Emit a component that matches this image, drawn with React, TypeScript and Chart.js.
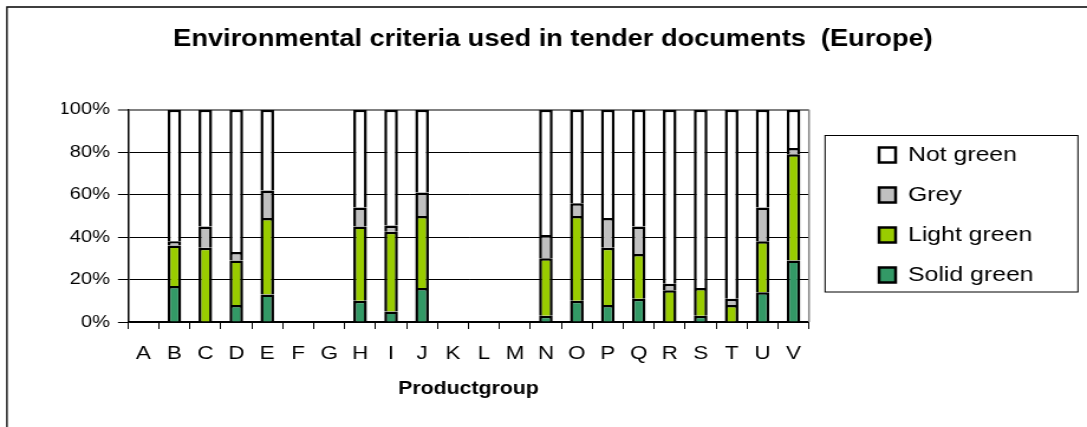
import { useEffect, useRef } from 'react';
import { Chart, registerables } from 'chart.js';

Chart.register(...registerables);

const categories = ['A', 'B', 'C', 'D', 'E', 'F', 'G', 'H', 'I', 'J', 'K', 'L', 'M', 'N', 'O', 'P', 'Q', 'R', 'S', 'T', 'U', 'V'];
const solidGreen = [null, 17, 0, 8, 13, null, null, 10, 5, 16, null, null, null, 3, 10, 8, 11, 0, 3, 0, 14, 29];
const lightGreen = [null, 19, 35, 21, 36, null, null, 35, 37.5, 34, null, null, null, 27, 40, 27, 21, 15, 13, 8, 24, 50];
const grey = [null, 2, 10, 4, 13, null, null, 9, 3, 11, null, null, null, 11, 6, 14, 13, 3, 0, 3, 16, 3];
const notGreen = [null, 62, 55, 67, 38, null, null, 46, 54.5, 39, null, null, null, 59, 44, 51, 55, 82, 84, 89, 46, 18];
const yTickValues = [0, 20, 40, 60, 80, 100];
const yTickLabels = ['0%', '20%', '40%', '60%', '80%', '100%'];

const TITLE = 'Environmental criteria used in tender documents  (Europe)';
const X_TITLE = 'Productgroup';
const FONT = "'Liberation Sans', Arial, Helvetica, sans-serif";

// internal canvas width (stretched horizontally by CSS to 1087)
const W = 920;
const H = 427;

const layoutPlugin = {
  id: 'layoutTweaks',
  afterLayout(chart: any) {
    const lg = chart.legend;
    if (lg) {
      lg.left = 725;
      lg.right = W;
      lg.width = W - 725;
      lg.top = 125.5;
      lg.bottom = H;
      lg.height = H - 125.5;
    }
    const tb = chart.titleBlock;
    if (tb) {
      tb.left = 468 - 420;
      tb.right = 468 + 420;
    }
  },
  afterDraw(chart: any) {
    const ctx = chart.ctx;
    const ca = chart.chartArea;
    ctx.save();
    // outer frame
    ctx.strokeStyle = '#000';
    ctx.lineWidth = 1.3;
    ctx.beginPath();
    ctx.moveTo(5.9, H + 5);
    ctx.lineTo(5.9, 7);
    ctx.lineTo(W + 5, 7);
    ctx.stroke();
    // plot area right border
    ctx.strokeStyle = '#808080';
    ctx.lineWidth = 1.5;
    ctx.beginPath();
    ctx.moveTo(ca.right, ca.top);
    ctx.lineTo(ca.right, ca.bottom);
    ctx.stroke();
    // legend frame
    ctx.strokeStyle = '#000';
    ctx.lineWidth = 1;
    ctx.strokeRect(698.3, 135.5, 214, 156.5);
    ctx.restore();
  },
};

export default function App() {
  const ref = useRef<HTMLCanvasElement>(null);

  useEffect(() => {
    if (!ref.current) return;
    const mk = (label: string, data: (number | null)[], color: string) => ({
      label,
      data,
      backgroundColor: color,
      borderColor: '#000',
      borderWidth: 2.5,
      barPercentage: 0.44,
      categoryPercentage: 1,
    });
    const chart = new Chart(ref.current, {
      type: 'bar',
      data: {
        labels: categories,
        datasets: [
          mk('Solid green', solidGreen, '#339966'),
          mk('Light green', lightGreen, '#99CC00'),
          mk('Grey', grey, '#C0C0C0'),
          mk('Not green', notGreen, '#FFFFFF'),
        ],
      },
      options: {
        responsive: false,
        animation: false,
        devicePixelRatio: 1,
        layout: { padding: { left: 52.3, right: 135.3, top: 0, bottom: 10.6 } },
        plugins: {
          title: {
            display: true,
            text: TITLE,
            color: '#000',
            font: { family: FONT, size: 23, weight: 'bold' },
            padding: { top: 26.2, bottom: 56 },
          },
          legend: {
            display: true,
            position: 'right',
            align: 'start',
            reverse: true,
            maxWidth: 100,
            labels: {
              color: '#000',
              font: { family: FONT, size: 21 },
              boxWidth: 14,
              boxHeight: 15,
              padding: 19,
            },
          },
          tooltip: { enabled: false },
        },
        scales: {
          x: {
            stacked: true,
            grid: {
              display: true,
              offset: true,
              drawOnChartArea: false,
              drawTicks: true,
              tickLength: 7,
              color: '#000',
              lineWidth: 1,
            },
            border: { display: true, color: '#000', width: 1.5 },
            ticks: {
              color: '#000',
              font: { family: FONT, size: 19 },
              padding: 13,
              maxRotation: 0,
              autoSkip: false,
            },
            title: {
              display: true,
              text: X_TITLE,
              color: '#000',
              font: { family: FONT, size: 18, weight: 'bold' },
              padding: { top: 0.4, bottom: 16.6 },
            },
          },
          y: {
            stacked: true,
            min: 0,
            max: 100,
            afterFit: (scale: any) => {
              scale.width = 56;
            },
            afterBuildTicks: (scale: any) => {
              scale.ticks = yTickValues.map((v) => ({ value: v }));
            },
            grid: {
              color: (c: any) => (c.tick && c.tick.value === 100 ? '#808080' : '#000'),
              lineWidth: (c: any) => (c.tick && c.tick.value === 100 ? 2 : 1),
              tickLength: 8.5,
            },
            border: { display: true, color: '#000', width: 1.5 },
            ticks: {
              color: '#000',
              font: { family: FONT, size: 17 },
              padding: 6.7,
              callback: (v: any) => {
                const i = yTickValues.indexOf(Number(v));
                return i >= 0 ? yTickLabels[i] : '';
              },
            },
          },
        },
      },
      plugins: [layoutPlugin],
    } as any);
    return () => chart.destroy();
  }, []);

  return (
    <div style={{ position: 'absolute', left: 0, top: 0, width: 1087, height: H, background: '#fff' }}>
      <canvas
        ref={ref}
        width={W}
        height={H}
        style={{ width: '1087px', height: H + 'px', display: 'block' }}
      />
    </div>
  );
}
